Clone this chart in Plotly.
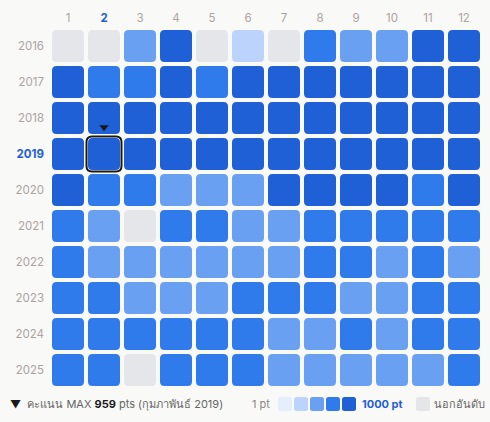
import plotly.graph_objects as go

# months (columns) and years (rows)
months = list(range(1, 13))
years = list(range(2016, 2026))

# score level per cell: 0 = unranked, 1..5 = light -> dark blue
levels = [
    [0, 0, 3, 5, 0, 2, 0, 4, 3, 3, 5, 5],  # 2016
    [5, 4, 4, 5, 4, 5, 5, 5, 5, 5, 5, 5],  # 2017
    [5, 5, 5, 5, 5, 5, 5, 5, 5, 5, 5, 5],  # 2018
    [5, 5, 5, 5, 5, 5, 5, 5, 5, 5, 5, 5],  # 2019
    [5, 4, 4, 3, 3, 3, 5, 5, 5, 5, 4, 5],  # 2020
    [4, 3, 0, 4, 4, 3, 3, 4, 4, 4, 4, 4],  # 2021
    [4, 3, 3, 3, 3, 3, 3, 4, 4, 3, 4, 3],  # 2022
    [4, 4, 3, 3, 3, 4, 4, 4, 3, 3, 4, 4],  # 2023
    [4, 4, 4, 4, 4, 4, 3, 3, 4, 3, 4, 4],  # 2024
    [4, 4, 0, 4, 4, 4, 3, 3, 3, 3, 3, 4],  # 2025
]
level_colors = ["#e5e6ea", "#e4eefd", "#bcd4fb", "#6aa0f2", "#2f7bec", "#1f60d6"]

max_score = 959
max_month = 2
max_year = 2019
max_label = "กุมภาพันธ์ 2019"

BG = "#f9f9f7"
LABEL = "#aca3a3"
ACCENT = "#1f5fd6"
FONT = "Inter, Noto Sans, sans-serif"


def roundRectPath(half, r):
    """Rounded square path in pixels, centered on the anchor."""
    h = half
    return (f"M {-h + r},{-h} L {h - r},{-h} Q {h},{-h} {h},{-h + r} "
            f"L {h},{h - r} Q {h},{h} {h - r},{h} L {-h + r},{h} "
            f"Q {-h},{h} {-h},{h - r} L {-h},{-h + r} Q {-h},{-h} {-h + r},{-h} Z")


fig = go.Figure()
shapes = []

cell_path = roundRectPath(16, 4.5)
for yi, yr in enumerate(years):
    for mi, m in enumerate(months):
        shapes.append(dict(type="path", xref="x", yref="y",
                           xsizemode="pixel", ysizemode="pixel",
                           xanchor=m, yanchor=yr, path=cell_path,
                           fillcolor=level_colors[levels[yi][mi]],
                           line=dict(width=0), layer="below"))

# highlight of the max month
shapes.append(dict(type="path", xref="x", yref="y",
                   xsizemode="pixel", ysizemode="pixel",
                   xanchor=max_month, yanchor=max_year,
                   path=roundRectPath(17.5, 5.5),
                   fillcolor="rgba(0,0,0,0)",
                   line=dict(color="#1a1a1a", width=2)))

fig.add_trace(go.Scatter(x=[max_month], y=[max_year - 0.74], mode="markers",
                         marker=dict(symbol="triangle-down", size=8, color="#1a1a1a"),
                         hoverinfo="skip", showlegend=False))

# legend (bottom), positioned in paper coordinates
def px_x(px):
    return (px - 50) / 432.0

legend_y = (388 - 404) / 360.0
sq_path = roundRectPath(7, 2.5)
for k, c in enumerate(level_colors[1:]):
    shapes.append(dict(type="path", xref="paper", yref="paper",
                       xsizemode="pixel", ysizemode="pixel",
                       xanchor=px_x(285 + 16 * k), yanchor=legend_y,
                       path=sq_path, fillcolor=c, line=dict(width=0)))
shapes.append(dict(type="path", xref="paper", yref="paper",
                   xsizemode="pixel", ysizemode="pixel",
                   xanchor=px_x(423), yanchor=legend_y,
                   path=sq_path, fillcolor=level_colors[0], line=dict(width=0)))

annotations = [
    dict(x=px_x(8), y=legend_y, xref="paper", yref="paper", xanchor="left",
         yanchor="middle", showarrow=False,
         text=(f"<span style='color:#1a1a1a'>▼</span>  คะแนน MAX "
               f"<b style='color:#1a1a1a'>{max_score}</b> pts ({max_label})"),
         font=dict(size=11, color="#666")),
    dict(x=px_x(272), y=legend_y, xref="paper", yref="paper", xanchor="right",
         yanchor="middle", showarrow=False, text="1 pt",
         font=dict(size=11, color="#888")),
    dict(x=px_x(360), y=legend_y, xref="paper", yref="paper", xanchor="left",
         yanchor="middle", showarrow=False, text="<b>1000 pt</b>",
         font=dict(size=11, color=ACCENT)),
    dict(x=px_x(432), y=legend_y, xref="paper", yref="paper", xanchor="left",
         yanchor="middle", showarrow=False, text="นอกอันดับ",
         font=dict(size=11, color="#666")),
]

month_text = [f"<b style='color:{ACCENT}'>{m}</b>" if m == max_month else str(m)
              for m in months]
year_text = [f"<b style='color:{ACCENT}'>{y}</b>" if y == max_year else str(y)
             for y in years]

fig.update_layout(
    width=490, height=422,
    margin=dict(l=50, r=8, t=28, b=34),
    paper_bgcolor=BG, plot_bgcolor=BG,
    font=dict(family=FONT, size=11.5, color=LABEL),
    shapes=shapes, annotations=annotations,
    showlegend=False,
    xaxis=dict(range=[0.5, 12.5], side="top", tickvals=months, ticktext=month_text,
               showgrid=False, zeroline=False, showline=False, ticks="",
               ticklabelstandoff=3, fixedrange=True),
    yaxis=dict(range=[2025.5, 2015.5], tickvals=years, ticktext=year_text,
               showgrid=False, zeroline=False, showline=False, ticks="",
               ticklabelstandoff=5, fixedrange=True),
)

fig.write_html("out.html", config={"displayModeBar": False},
               post_script="document.body.style.margin='0';")
